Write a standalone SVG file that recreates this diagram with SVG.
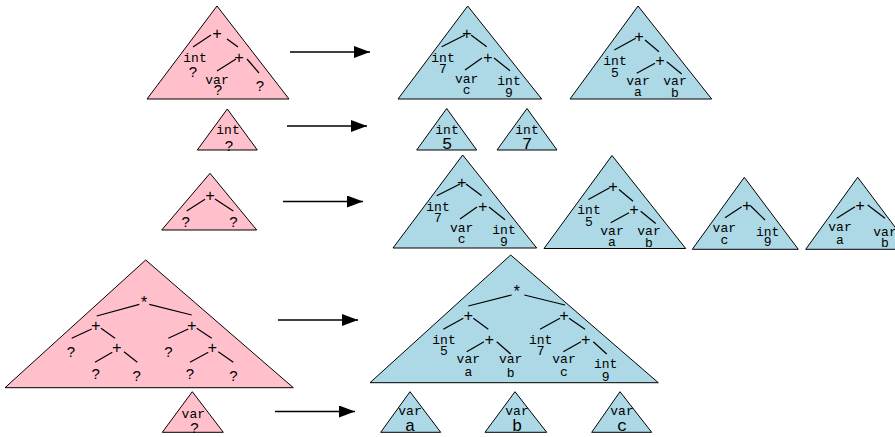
<svg xmlns="http://www.w3.org/2000/svg" width="895" height="437" viewBox="0 0 895 437">
<defs>
<marker id="ah" markerWidth="16" markerHeight="12" refX="16" refY="6" orient="auto" markerUnits="userSpaceOnUse">
<path d="M0,0 L16,6 L0,12 Z" fill="#000"/>
</marker>
</defs>
<style>
.pk{fill:#ffc0cb;stroke:#000;stroke-width:1}
.bl{fill:#add8e6;stroke:#000;stroke-width:1}
.m{font-family:"Liberation Mono","DejaVu Sans Mono",monospace;font-size:13px;text-anchor:middle;fill:#000}
.o{font-size:16px}
.q{font-family:"Liberation Sans",Arial,sans-serif;font-size:15px;text-anchor:middle;fill:#000}
.b{font-size:17px}
.e{stroke:#000;stroke-width:1.2;fill:none}
.ar{stroke:#000;stroke-width:1.5;fill:none;marker-end:url(#ah)}
</style>
<rect width="895" height="437" fill="#fff"/>

<g id="connectors">
<line class="ar" x1="290" y1="52" x2="370" y2="52"/>
<line class="ar" x1="287" y1="126" x2="367" y2="126"/>
<line class="ar" x1="283" y1="201.5" x2="363" y2="201.5"/>
<line class="ar" x1="278" y1="320" x2="358" y2="320"/>
<line class="ar" x1="275" y1="411.5" x2="355" y2="411.5"/>
</g>

<!-- Row 1 -->
<g id="p1">
<polygon class="pk" points="217,6 147,99 289,99"/>
<line class="e" x1="193" y1="47" x2="211" y2="35"/>
<line class="e" x1="227" y1="39" x2="238" y2="47"/>
<line class="e" x1="217" y1="71" x2="236" y2="59"/>
<line class="e" x1="247" y1="59" x2="259" y2="73"/>
<text class="m o" x="217" y="38.5">+</text>
<text class="m" x="195" y="62">int</text>
<text class="q" x="193" y="77">?</text>
<text class="m o" x="239" y="62.5">+</text>
<text class="m" x="217" y="84">var</text>
<text class="q" x="218" y="95">?</text>
<text class="q" x="260" y="91">?</text>
</g>

<g id="b1">
<polygon class="bl" points="467.7,6 398,99 541.7,99"/>
<line class="e" x1="441.7" y1="46.7" x2="465" y2="35"/>
<line class="e" x1="471" y1="35" x2="486.7" y2="46.7"/>
<line class="e" x1="465" y1="70" x2="482" y2="58"/>
<line class="e" x1="494" y1="58" x2="510" y2="70.7"/>
<text class="m o" x="466.7" y="38.5">+</text>
<text class="m" x="443" y="61.5">int</text>
<text class="m" x="443" y="72.5">7</text>
<text class="m o" x="487.7" y="62.5">+</text>
<text class="m" x="466.7" y="83">var</text>
<text class="m" x="466.7" y="94">c</text>
<text class="m" x="509" y="84.5">int</text>
<text class="m" x="509" y="96.5">9</text>
</g>

<g id="b2">
<polygon class="bl" points="638,6 570,99 711.7,99"/>
<line class="e" x1="614.3" y1="50" x2="635.7" y2="38.3"/>
<line class="e" x1="645" y1="40" x2="659" y2="51.7"/>
<line class="e" x1="636.7" y1="73.3" x2="655" y2="63.3"/>
<line class="e" x1="666.7" y1="61.7" x2="681.7" y2="74"/>
<text class="m o" x="639" y="42">+</text>
<text class="m" x="615" y="64.5">int</text>
<text class="m" x="615" y="76.5">5</text>
<text class="m o" x="660" y="65.5">+</text>
<text class="m" x="638" y="85">var</text>
<text class="m" x="638" y="96">a</text>
<text class="m" x="675" y="85">var</text>
<text class="m" x="675" y="97">b</text>
</g>

<!-- Row 2 -->
<g id="p2">
<polygon class="pk" points="227.3,109 197.3,150 257.3,150"/>
<text class="m" x="228" y="134">int</text>
<text class="q" x="229" y="151">?</text>
</g>
<g id="b3">
<polygon class="bl" points="446.7,108.5 416.7,150 476.7,150"/>
<text class="m" x="447" y="134">int</text>
<text class="m b" x="447" y="148.5">5</text>
</g>
<g id="b4">
<polygon class="bl" points="527,108.5 497,150 557,150"/>
<text class="m" x="527" y="134">int</text>
<text class="m b" x="527" y="148.5">7</text>
</g>

<!-- Row 3 -->
<g id="p3">
<polygon class="pk" points="210,173.3 161.7,230 256.7,230"/>
<line class="e" x1="186.7" y1="211" x2="205" y2="199.3"/>
<line class="e" x1="215" y1="199" x2="233.3" y2="211"/>
<text class="m o" x="210" y="200.5">+</text>
<text class="q" x="185.7" y="227">?</text>
<text class="q" x="233.3" y="227">?</text>
</g>

<g id="b5" transform="translate(-5,149)">
<polygon class="bl" points="467.7,6 398,99 541.7,99"/>
<line class="e" x1="441.7" y1="46.7" x2="465" y2="35"/>
<line class="e" x1="471" y1="35" x2="486.7" y2="46.7"/>
<line class="e" x1="465" y1="70" x2="482" y2="58"/>
<line class="e" x1="494" y1="58" x2="510" y2="70.7"/>
<text class="m o" x="466.7" y="38.5">+</text>
<text class="m" x="443" y="61.5">int</text>
<text class="m" x="443" y="72.5">7</text>
<text class="m o" x="487.7" y="62.5">+</text>
<text class="m" x="466.7" y="83">var</text>
<text class="m" x="466.7" y="94">c</text>
<text class="m" x="509" y="84.5">int</text>
<text class="m" x="509" y="96.5">9</text>
</g>

<g id="b6" transform="translate(-26,149.5)">
<polygon class="bl" points="638,6 570,99 711.7,99"/>
<line class="e" x1="614.3" y1="50" x2="635.7" y2="38.3"/>
<line class="e" x1="645" y1="40" x2="659" y2="51.7"/>
<line class="e" x1="636.7" y1="73.3" x2="655" y2="63.3"/>
<line class="e" x1="666.7" y1="61.7" x2="681.7" y2="74"/>
<text class="m o" x="639" y="42">+</text>
<text class="m" x="615" y="64.5">int</text>
<text class="m" x="615" y="76.5">5</text>
<text class="m o" x="660" y="65.5">+</text>
<text class="m" x="638" y="85">var</text>
<text class="m" x="638" y="96">a</text>
<text class="m" x="675" y="85">var</text>
<text class="m" x="675" y="97">b</text>
</g>

<g id="b7">
<polygon class="bl" points="744.3,177.3 692.3,249.3 798.3,249.3"/>
<line class="e" x1="725" y1="217.7" x2="741.7" y2="206.7"/>
<line class="e" x1="750.7" y1="206" x2="765" y2="220"/>
<text class="m o" x="746.7" y="210.5">+</text>
<text class="m" x="724.3" y="231.5">var</text>
<text class="m" x="724.3" y="244">c</text>
<text class="m" x="767.7" y="235.5">int</text>
<text class="m" x="767.7" y="246">9</text>
</g>

<g id="b8">
<polygon class="bl" points="857.7,177.3 805.7,249.3 911.7,249.3"/>
<line class="e" x1="836.7" y1="218.3" x2="855" y2="206.7"/>
<line class="e" x1="867.7" y1="205" x2="885" y2="218.3"/>
<text class="m o" x="860" y="210.5">+</text>
<text class="m" x="840" y="231">var</text>
<text class="m" x="840" y="243.5">a</text>
<text class="m" x="885" y="236">var</text>
<text class="m" x="885" y="246.5">b</text>
</g>

<!-- Row 4 -->
<g id="p4">
<polygon class="pk" points="145.7,260 5,387.7 293.3,387.7"/>
<line class="e" x1="96.7" y1="316" x2="139.3" y2="304.3"/>
<line class="e" x1="149.3" y1="304.3" x2="191.7" y2="315"/>
<line class="e" x1="71.7" y1="338.3" x2="91.7" y2="329"/>
<line class="e" x1="101" y1="328.3" x2="115" y2="338.3"/>
<line class="e" x1="95" y1="362.3" x2="112.3" y2="352.3"/>
<line class="e" x1="124" y1="351.7" x2="137.3" y2="362.3"/>
<line class="e" x1="168.3" y1="338.3" x2="188.3" y2="329"/>
<line class="e" x1="196.7" y1="328.3" x2="211.7" y2="338.3"/>
<line class="e" x1="190" y1="362.3" x2="208.3" y2="352.3"/>
<line class="e" x1="218.3" y1="351.7" x2="233.3" y2="362.3"/>
<text class="m o" x="144" y="308">*</text>
<text class="m o" x="95.7" y="330.5">+</text>
<text class="q" x="71" y="357">?</text>
<text class="m o" x="116.7" y="353">+</text>
<text class="q" x="95.7" y="378.5">?</text>
<text class="q" x="136.7" y="381">?</text>
<text class="m o" x="191.7" y="330.5">+</text>
<text class="q" x="168.3" y="357">?</text>
<text class="m o" x="212.3" y="353">+</text>
<text class="q" x="190" y="378.5">?</text>
<text class="q" x="233.3" y="381">?</text>
</g>

<g id="b9">
<polygon class="bl" points="510.7,255 370,382.7 658.3,382.7"/>
<line class="e" x1="468.3" y1="306" x2="511.7" y2="295"/>
<line class="e" x1="524.3" y1="295" x2="565" y2="305"/>
<line class="e" x1="443.3" y1="329.3" x2="463.3" y2="318.3"/>
<line class="e" x1="473.3" y1="318.3" x2="488.3" y2="329.3"/>
<line class="e" x1="466.7" y1="351.7" x2="484" y2="341.7"/>
<line class="e" x1="496.7" y1="341.7" x2="510.7" y2="354"/>
<line class="e" x1="540" y1="329.3" x2="560" y2="318.3"/>
<line class="e" x1="569" y1="318.3" x2="585" y2="329.3"/>
<line class="e" x1="563.3" y1="351.7" x2="581" y2="341.7"/>
<line class="e" x1="593.3" y1="341.7" x2="606.7" y2="354"/>
<text class="m o" x="516.7" y="296.5">*</text>
<text class="m o" x="468.3" y="320.5">+</text>
<text class="m" x="444" y="343.5">int</text>
<text class="m" x="444" y="354.5">5</text>
<text class="m o" x="489.3" y="344.5">+</text>
<text class="m" x="468.3" y="363">var</text>
<text class="m" x="468.3" y="375.5">a</text>
<text class="m" x="510.7" y="363">var</text>
<text class="m" x="510.7" y="377">b</text>
<text class="m o" x="564" y="320.5">+</text>
<text class="m" x="540.7" y="343.5">int</text>
<text class="m" x="540.7" y="354.5">7</text>
<text class="m o" x="585.7" y="344.5">+</text>
<text class="m" x="564" y="363">var</text>
<text class="m" x="564" y="375.5">c</text>
<text class="m" x="605.7" y="367.5">int</text>
<text class="m" x="605.7" y="380.5">9</text>
</g>

<!-- Row 5 -->
<g id="p5">
<polygon class="pk" points="192.3,391.7 162.3,432.3 223.3,432.3"/>
<text class="m" x="193.3" y="417.5">var</text>
<text class="q" x="194.3" y="433">?</text>
</g>
<g id="b10">
<polygon class="bl" points="410,391.7 380.7,432.3 440.7,432.3"/>
<text class="m" x="410" y="415">var</text>
<text class="m b" x="410" y="431.3">a</text>
</g>
<g id="b11">
<polygon class="bl" points="515,391.7 485,432.3 546.7,432.3"/>
<text class="m" x="517" y="415">var</text>
<text class="m b" x="517" y="431.3">b</text>
</g>
<g id="b12">
<polygon class="bl" points="620,391.7 591.7,432.3 651.7,432.3"/>
<text class="m" x="622" y="415">var</text>
<text class="m b" x="622" y="431.3">c</text>
</g>
</svg>
